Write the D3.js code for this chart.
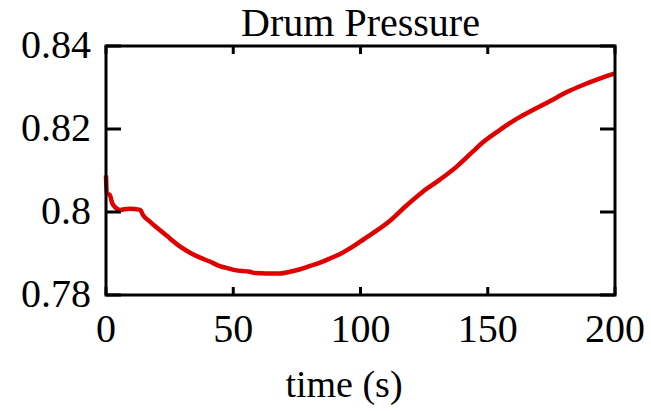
<!DOCTYPE html>
<html>
<head>
<meta charset="utf-8">
<script src="https://cdn.jsdelivr.net/npm/d3@7"></script>
</head>
<body style="margin:0">
<svg></svg>
<script>
// Data

const times = [
  0, 0.3, 1.5, 2.4, 3.5, 5.5, 9, 13.5, 14.5, 17, 21, 25, 29, 33, 37, 41, 45, 47,
  50.7, 56.6, 58.5, 63, 68.4, 72.3, 76.3, 80.2, 84.1, 88, 92, 96, 100, 104.9,
  111.6, 118.3, 124.5, 131.2, 137.9, 144.2, 148.1, 154.8, 161.5, 167.8, 174.4, 181.1,
  187.4, 194.2, 200,
]
const pressure = [
  0.8088, 0.8045, 0.8041, 0.8022, 0.8012, 0.8005, 0.8008, 0.8005, 0.7993, 0.7978,
  0.7957, 0.7937, 0.7917, 0.7902, 0.7890, 0.7880, 0.7869, 0.7866,
  0.7860, 0.7856, 0.7853, 0.7852, 0.7852, 0.7856, 0.7862, 0.7870, 0.7878, 0.7888,
  0.7899, 0.7913, 0.7929, 0.7949,
  0.7979, 0.8017, 0.8049, 0.8078, 0.8110, 0.8146, 0.8168, 0.8198, 0.8225, 0.8246,
  0.8267, 0.8289, 0.8306, 0.8322, 0.8334,
]
const xTicks = [0, 50, 100, 150, 200]
const yTicks = [0.78, 0.8, 0.82, 0.84]
const yTickLabels = ['0.78', '0.8', '0.82', '0.84']

const points = times.map((t, i) => ({t, v: pressure[i]}))

// Layout

const width = 651
const height = 411
const plot = {left: 106, right: 615, top: 46, bottom: 295}
const serif = '"Liberation Serif"'

const svg = d3.select('svg')
    .attr('width', width)
    .attr('height', height)

const x = d3.scaleLinear()
    .domain([0, 200])
    .range([plot.left, plot.right])

const y = d3.scaleLinear()
    .domain([0.78, 0.84])
    .range([plot.bottom, plot.top])

// Curve

const line = d3.line()
    .x(d => x(d.t))
    .y(d => y(d.v))
    .curve(d3.curveMonotoneX)

svg.append('path')
    .datum(points)
    .attr('d', line)
    .attr('fill', 'none')
    .attr('stroke', '#e00000')
    .attr('stroke-width', 4.5)

// Ticks (inward, on all four sides)

const tickG = svg.append('g')
    .attr('stroke', '#000')
    .attr('stroke-width', 3)

tickG.selectAll('.xb').data(xTicks).join('line')
    .attr('x1', d => x(d)).attr('x2', d => x(d))
    .attr('y1', plot.bottom).attr('y2', plot.bottom - 8)

tickG.selectAll('.xt').data(xTicks).join('line')
    .attr('x1', d => x(d)).attr('x2', d => x(d))
    .attr('y1', plot.top).attr('y2', plot.top + 8)

tickG.selectAll('.yl').data(yTicks).join('line')
    .attr('x1', plot.left).attr('x2', plot.left + 15)
    .attr('y1', d => y(d)).attr('y2', d => y(d))

tickG.selectAll('.yr').data(yTicks).join('line')
    .attr('x1', plot.right).attr('x2', plot.right - 15)
    .attr('y1', d => y(d)).attr('y2', d => y(d))

// Frame

svg.append('rect')
    .attr('x', plot.left)
    .attr('y', plot.top)
    .attr('width', plot.right - plot.left)
    .attr('height', plot.bottom - plot.top)
    .attr('fill', 'none')
    .attr('stroke', '#000')
    .attr('stroke-width', 3)

// Labels

svg.append('g').selectAll('text').data(xTicks).join('text')
    .attr('x', d => x(d))
    .attr('y', 342)
    .attr('text-anchor', 'middle')
    .attr('font-size', 40)
    .style('font-family', serif)
    .text(d => d)

svg.append('g').selectAll('text').data(yTicks).join('text')
    .attr('x', 91)
    .attr('y', d => y(d) + 12)
    .attr('text-anchor', 'end')
    .attr('font-size', 40)
    .style('font-family', serif)
    .text((d, i) => yTickLabels[i])

svg.append('text')
    .attr('x', (plot.left + plot.right) / 2)
    .attr('y', 36)
    .attr('text-anchor', 'middle')
    .attr('font-size', 40)
    .style('font-family', serif)
    .text('Drum Pressure')

svg.append('text')
    .attr('x', 344)
    .attr('y', 397)
    .attr('text-anchor', 'middle')
    .attr('font-size', 38)
    .style('font-family', serif)
    .text('time (s)')
</script>
</body>
</html>
